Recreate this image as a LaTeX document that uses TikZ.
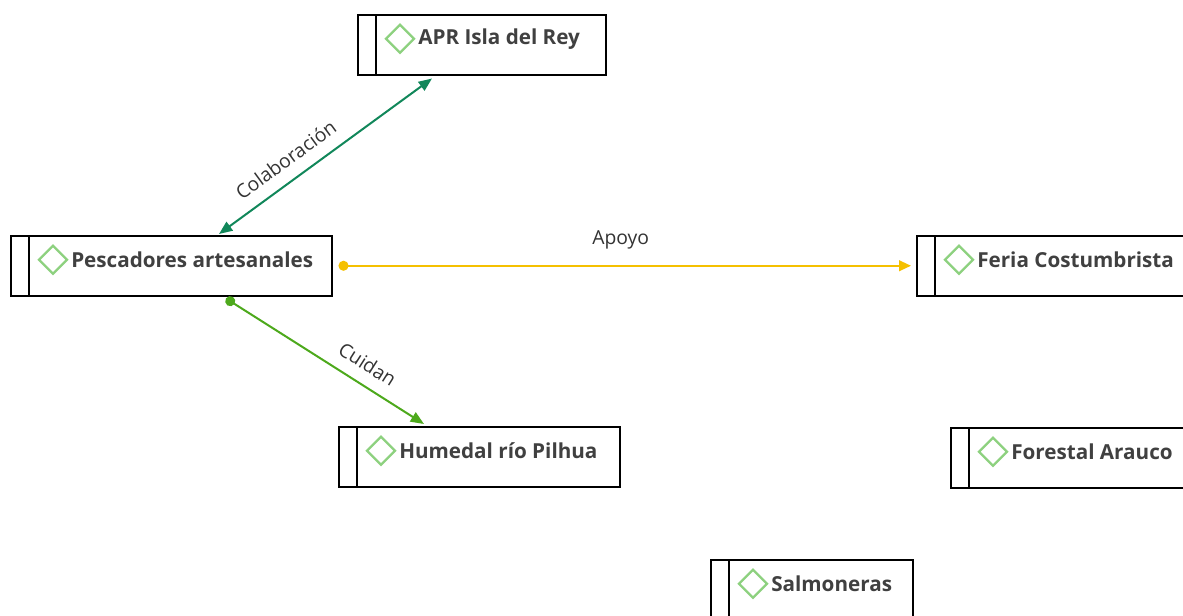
\documentclass[tikz,border=0pt]{standalone}
\usepackage{fontspec}
\setmainfont{Open Sans}
\usetikzlibrary{arrows.meta,calc}
\definecolor{boxtext}{HTML}{404040}
\definecolor{icon}{HTML}{8DD17F}
\definecolor{colab}{HTML}{11875A}
\definecolor{apoyo}{HTML}{F5C000}
\definecolor{cuidan}{HTML}{4DA91C}
\definecolor{lbl}{HTML}{333333}
\begin{document}
\begin{tikzpicture}[x=0.75pt,y=-0.75pt,
  ent/.style={draw=black,line width=1.5pt*0.75,rectangle,minimum height=60*0.75pt,inner sep=0pt,anchor=north west},
  enttext/.style={anchor=west,text=boxtext,font=\fontsize{15.5}{18}\selectfont\bfseries,inner sep=0pt},
  elbl/.style={text=lbl,font=\fontsize{14.5}{17}\selectfont,inner sep=1pt},
  conn/.style={line width=1.5pt}
]
\useasboundingbox (0,0) rectangle (1183,615);
\clip (0,0) rectangle (1183,615);
\newcommand{\entity}[5]{% name, x, y, width, text
  \node[ent,minimum width=#4*0.75pt] (#1) at (#2,#3) {};
  \draw[line width=1.5pt*0.75] ($(#1.north west)+(19,0)$) -- ($(#1.south west)+(19,0)$);
  \draw[icon,line width=2.2pt*0.75] ($(#1.west)+(43,-20)$) -- ($(#1.west)+(57,-6)$) -- ($(#1.west)+(43,8)$) -- ($(#1.west)+(29,-6)$) -- cycle;
  \node[enttext] (#1-t) at ($(#1.west)+(61,-6)$) {#5};
}
\entity{apr}{357}{14}{248}{APR Isla del Rey}
\entity{pesc}{10}{235}{321}{Pescadores artesanales}
\entity{feria}{916}{235}{280}{Feria Costumbrista}
\entity{hum}{338}{426}{281}{Humedal río Pilhua}
\entity{for}{950}{427}{250}{Forestal Arauco}
\entity{salm}{710}{559}{202}{Salmoneras}

\draw[conn,colab,{Triangle[length=10pt,width=8pt]}-{Triangle[length=10pt,width=8pt]}]
  ($(pesc.north west)+(209,-1)$) -- ($(apr.south west)+(75,3)$)
  node[elbl,pos=0.37,sloped,above=8pt] {Colaboración};
\draw[conn,apoyo,{Circle[length=7.5pt]}-{Triangle[length=9pt,width=8pt]}]
  ($(pesc.east)+(6,0)$) -- ($(feria.west)+(-5,0)$)
  node[elbl,pos=0.493,above=11pt] {Apoyo};
\draw[conn,cuidan,{Circle[length=7.5pt]}-{Triangle[length=10pt,width=8pt]}]
  ($(pesc.south west)+(216,2)$) -- ($(hum.north west)+(86,-2)$)
  node[elbl,pos=0.66,sloped,above=8pt] {Cuidan};
\end{tikzpicture}
\end{document}
